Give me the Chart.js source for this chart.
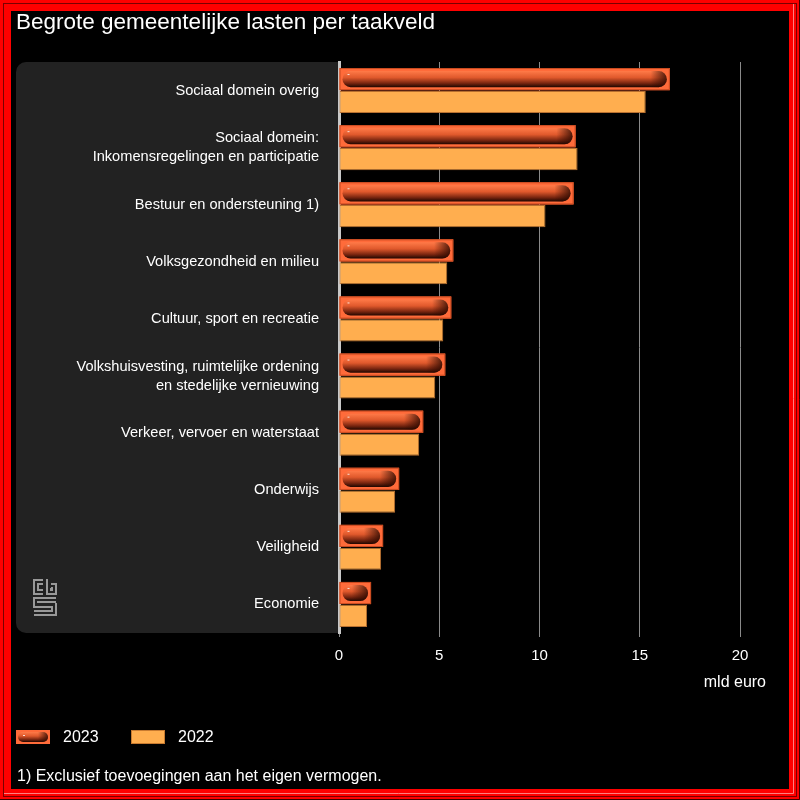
<!DOCTYPE html>
<html>
<head>
<meta charset="utf-8">
<script src="https://cdn.jsdelivr.net/npm/chart.js@4"></script>
<style>
  html, body { margin: 0; padding: 0; background: #000; }
  #wrap { width: 800px; height: 800px; }
</style>
</head>
<body>
<div id="wrap"><canvas id="chart" width="800" height="800"></canvas></div>
<script>
const categories = [
    'Sociaal domein overig',
    ['Sociaal domein:', 'Inkomensregelingen en participatie'],
    'Bestuur en ondersteuning 1)',
    'Volksgezondheid en milieu',
    'Cultuur, sport en recreatie',
    ['Volkshuisvesting, ruimtelijke ordening', 'en stedelijke vernieuwing'],
    'Verkeer, vervoer en waterstaat',
    'Onderwijs',
    'Veiligheid',
    'Economie'
];
const values2023 = [16.5, 11.8, 11.7, 5.7, 5.6, 5.3, 4.2, 3.0, 2.2, 1.6];
const values2022 = [15.3, 11.9, 10.3, 5.4, 5.2, 4.8, 4.0, 2.8, 2.1, 1.4];
const xTicks = [0, 5, 10, 15, 20];

const FONT = '"Liberation Sans", Arial, sans-serif';

// frame, title, label panel
const backdrop = {
    id: 'backdrop',
    beforeDraw(chart) {
        const ctx = chart.ctx;
        const a = chart.chartArea;
        ctx.save();
        ctx.fillStyle = '#000';
        ctx.fillRect(0, 0, 800, 800);
        // label panel
        ctx.fillStyle = '#222';
        ctx.beginPath();
        ctx.roundRect(16, a.top, a.left - 16, a.bottom - a.top, [10, 0, 0, 10]);
        ctx.fill();
        ctx.restore();
    },
    afterDraw(chart) {
        const ctx = chart.ctx;
        ctx.save();
        // red frame
        ctx.fillStyle = '#ff0000';
        ctx.fillRect(0, 0, 800, 11);
        ctx.fillRect(0, 789, 800, 11);
        ctx.fillRect(0, 0, 11, 800);
        ctx.fillRect(789, 0, 11, 800);
        ctx.strokeStyle = '#7a0000';
        ctx.lineWidth = 1;
        ctx.strokeRect(3.5, 3.5, 793, 793);
        ctx.strokeStyle = '#ff8080';
        ctx.beginPath();
        ctx.moveTo(4, 793.5); ctx.lineTo(793.5, 793.5); ctx.lineTo(793.5, 4);
        ctx.stroke();
        ctx.strokeStyle = '#400000';
        ctx.beginPath();
        ctx.moveTo(0, 799.5); ctx.lineTo(799.5, 799.5); ctx.lineTo(799.5, 0);
        ctx.stroke();

        // title
        ctx.fillStyle = '#fff';
        ctx.font = '22.5px ' + FONT;
        ctx.textBaseline = 'middle';
        ctx.textAlign = 'left';
        ctx.fillText('Begrote gemeentelijke lasten per taakveld', 16, 23);

        // axis unit
        ctx.font = '16px ' + FONT;
        ctx.textAlign = 'right';
        ctx.fillText('mld euro', 766, 683);

        // legend
        drawPill(ctx, 16, 730, 34, 14);
        ctx.fillStyle = '#ffae4f';
        ctx.fillRect(131, 730, 34, 14);
        ctx.strokeStyle = '#c77a30';
        ctx.strokeRect(131.5, 730.5, 33, 13);
        ctx.fillStyle = '#fff';
        ctx.textAlign = 'left';
        ctx.font = '16px ' + FONT;
        ctx.fillText('2023', 63, 738);
        ctx.fillText('2022', 178, 738);

        // footnote
        ctx.fillText('1) Exclusief toevoegingen aan het eigen vermogen.', 17, 777);

        // cbs logo
        ctx.strokeStyle = '#999';
        ctx.lineWidth = 2;
        ctx.beginPath();
        // c
        ctx.moveTo(43, 580); ctx.lineTo(34, 580); ctx.lineTo(34, 594); ctx.lineTo(43, 594);
        ctx.moveTo(43, 584); ctx.lineTo(38, 584); ctx.lineTo(38, 590); ctx.lineTo(43, 590);
        // b
        ctx.moveTo(47, 579); ctx.lineTo(47, 594); ctx.lineTo(56, 594); ctx.lineTo(56, 584); ctx.lineTo(51, 584);
        ctx.moveTo(51, 588); ctx.lineTo(52, 588); ctx.lineTo(52, 590); ctx.lineTo(51, 590); ctx.lineTo(51, 588);
        // s
        ctx.moveTo(56, 598); ctx.lineTo(34, 598); ctx.lineTo(34, 607); ctx.lineTo(52, 607); ctx.lineTo(52, 611); ctx.lineTo(34, 611);
        ctx.moveTo(56, 602); ctx.lineTo(38, 602); ctx.lineTo(38, 603);
        ctx.moveTo(56, 603); ctx.lineTo(56, 615); ctx.lineTo(34, 615);
        ctx.stroke();
        ctx.restore();
    }
};

function drawPill(ctx, x, y, w, h) {
    ctx.save();
    ctx.fillStyle = '#ff6b3a';
    ctx.fillRect(x, y, w, h);
    const inset = Math.max(2, Math.round(h * 0.15));
    const px = x + inset, py = y + inset, pw = w - inset * 2, ph = h - inset * 2;
    const g = ctx.createLinearGradient(0, py, 0, py + ph);
    g.addColorStop(0, '#ff7a48');
    g.addColorStop(0.4, '#e0592c');
    g.addColorStop(0.75, '#7a2610');
    g.addColorStop(1, '#1e0600');
    ctx.fillStyle = g;
    ctx.beginPath();
    ctx.roundRect(px, py, pw, ph, Math.min(ph / 2, pw / 2));
    ctx.fill();
    // darker right end
    const gr = ctx.createLinearGradient(px + pw - ph, 0, px + pw, 0);
    gr.addColorStop(0, 'rgba(40,8,0,0)');
    gr.addColorStop(1, 'rgba(40,8,0,0.8)');
    ctx.fillStyle = gr;
    ctx.beginPath();
    ctx.roundRect(px, py, pw, ph, Math.min(ph / 2, pw / 2));
    ctx.fill();
    // highlight
    ctx.fillStyle = 'rgba(255,255,255,0.8)';
    ctx.fillRect(px + 5, py + 3, 2, 1);
    ctx.restore();
}

// glossy pill on the 2023 bars
const gloss = {
    id: 'gloss',
    afterDatasetsDraw(chart) {
        const ctx = chart.ctx;
        chart.getDatasetMeta(0).data.forEach(bar => {
            const p = bar.getProps(['x', 'y', 'base', 'height'], true);
            const top = p.y - p.height / 2;
            drawPill(ctx, p.base, top, p.x - p.base, p.height);
            ctx.save();
            ctx.strokeStyle = '#c84a20';
            ctx.lineWidth = 1;
            ctx.strokeRect(p.base + 0.5, top + 0.5, p.x - p.base - 1, p.height - 1);
            ctx.restore();
        });
    }
};

new Chart(document.getElementById('chart'), {
    type: 'bar',
    data: {
        labels: categories,
        datasets: [
            {
                label: '2023',
                data: values2023,
                backgroundColor: '#ff6b3a',
                borderColor: '#c84a20',
                borderWidth: 1,
                borderSkipped: false
            },
            {
                label: '2022',
                data: values2022,
                backgroundColor: '#ffae4f',
                borderColor: '#b87030',
                borderWidth: 1,
                borderSkipped: false
            }
        ]
    },
    options: {
        indexAxis: 'y',
        responsive: false,
        animation: false,
        datasets: { bar: { categoryPercentage: 0.8, barPercentage: 0.97 } },
        layout: { padding: { left: 16, right: 60, top: 62, bottom: 0 } },
        plugins: { legend: { display: false }, tooltip: { enabled: false } },
        scales: {
            x: {
                min: 0,
                max: 20,
                afterBuildTicks: s => { s.ticks = xTicks.map(v => ({ value: v })); },
                afterFit: s => { s.height = 167; },
                grid: {
                    color: c => c.tick && c.tick.value === 0 ? 'rgba(0,0,0,0)' : '#8a8a8a',
                    lineWidth: 1,
                    tickLength: 4,
                    tickColor: '#8a8a8a'
                },
                border: { display: false },
                ticks: { color: '#fff', font: { family: FONT, size: 15 }, padding: 10 }
            },
            y: {
                afterFit: s => { s.width = 323; },
                grid: { display: false, drawTicks: false },
                border: { color: '#c8c8c8', width: 3 },
                ticks: { color: '#fff', font: { family: FONT, size: 14.6, lineHeight: 1.3 }, padding: 20 }
            }
        }
    },
    plugins: [backdrop, gloss]
});
</script>
</body>
</html>
